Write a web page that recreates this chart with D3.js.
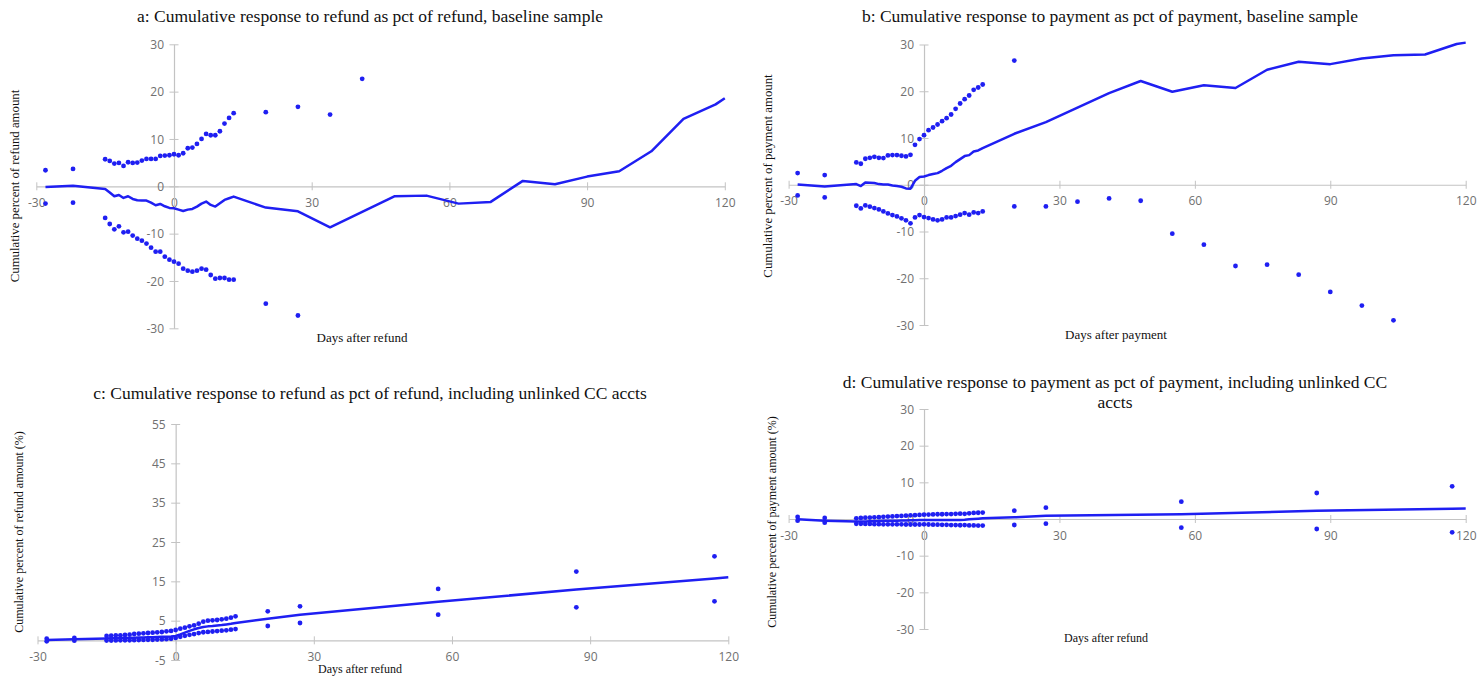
<!DOCTYPE html>
<html>
<head>
<meta charset="utf-8">
<script src="https://cdn.jsdelivr.net/npm/d3@7"></script>
<style>
  body { margin: 0; background: #fff; }
  .title  { font-family: "Liberation Serif", "DejaVu Serif", serif; fill: #111; }
  .axtitle { font-family: "Liberation Serif", "DejaVu Serif", serif; fill: #111; }
  .tick text { font-family: "Open Sans", "Liberation Sans", sans-serif; font-size: 12px; fill: #707070; }
</style>
</head>
<body>
<svg id="chart" width="1480" height="677"></svg>
<script>

// ---- data ----
var x_ticks = [-30, 0, 30, 60, 90, 120];
var y_ticks_30 = [-30, -20, -10, 0, 10, 20, 30];
var y_ticks_c = [-5, 5, 15, 25, 35, 45, 55];

// days for panels a and b
var days_ab = [-28,-22,-15,-14,-13,-12,-11,-10,-9,-8,-7,-6,-5,-4,-3,-2,-1,0,1,2,3,4,5,6,7,8,9,10,11,12,13,
               20,27,34,41,48,55,62,69,76,83,90,97,104,111,118,120];
// days for panels c and d
var days_cd = [-28,-22,-15,-14,-13,-12,-11,-10,-9,-8,-7,-6,-5,-4,-3,-2,-1,0,1,2,3,4,5,6,7,8,9,10,11,12,13,
               20,27,57,87,117,120];

var a_mid = [-0.14,0.14,-0.56,-1.3,-2.11,-1.83,-2.46,-2.11,-2.67,-2.95,-3.02,-3.02,-3.45,-4.01,-3.73,-4.22,-4.57,
             -4.64,-4.93,-5.21,-4.93,-4.78,-4.29,-3.66,-3.23,-3.94,-4.29,-3.59,-2.88,-2.53,-2.18,
             -4.5,-5.28,-8.66,-5.4,-2.11,-1.97,-3.66,-3.3,1.14,0.42,2.05,3.17,7.4,14.25,17.3,18.6];
var a_hi = [3.39,3.67,5.71,5.36,4.80,4.94,4.31,5.08,4.94,5.01,5.43,5.79,5.79,5.79,6.42,6.49,6.56,
            6.77,6.56,6.98,8.04,8.18,8.96,10.01,11.07,10.79,10.79,11.63,13.26,14.45,15.44,
            15.65,16.78,15.16,22.70,null,null,null,null,null,null,null,null,null,null,null,null];
var a_lo = [-3.66,-3.45,-6.69,-7.96,-9.08,-8.45,-9.72,-9.58,-10.42,-11.06,-11.48,-12.11,-12.96,-13.81,-13.81,-14.86,-15.50,
            -15.92,-16.34,-17.40,-17.82,-18.03,-17.82,-17.40,-17.61,-18.74,-19.51,-19.37,-19.37,-19.72,-19.72,
            -24.8,-27.3,null,null,null,null,null,null,null,null,null,null,null,null,null,null];

var b_mid = [0.07,-0.36,0.14,-0.28,0.50,0.43,0.36,0.14,0.07,0.07,-0.14,-0.28,-0.43,-0.78,-0.85,0.85,1.64,
             1.78,2.07,2.28,2.49,2.99,3.56,4.06,4.84,5.48,6.13,6.34,7.12,7.34,7.84,
             10.9,13.4,16.5,19.6,22.2,19.9,21.3,20.7,24.6,26.3,25.8,27.0,27.7,27.85,30.1,30.4];
var b_hi = [2.5,2.07,4.77,4.49,5.56,5.77,5.98,5.77,5.70,6.27,6.34,6.34,6.20,6.05,6.41,8.55,9.76,
            10.61,11.68,12.25,12.89,13.60,14.25,15.03,16.24,17.38,18.31,19.09,20.30,20.80,21.44,
            26.57,null,null,null,null,null,null,null,null,null,null,null,null,null,null,null];
var b_lo = [-2.28,-2.71,-4.49,-5.06,-4.42,-4.70,-4.99,-5.27,-5.70,-6.13,-6.48,-6.77,-7.19,-7.62,-8.26,-6.98,-6.48,
            -6.91,-7.12,-7.41,-7.62,-7.41,-6.98,-6.98,-6.70,-6.41,-6.05,-6.41,-5.91,-6.05,-5.70,
            -4.63,-4.63,-3.63,-2.92,-3.42,-10.47,-12.82,-17.38,-17.09,-19.23,-22.93,-25.85,-28.99,null,null,null];

var c_mid = [0.08,0.25,0.45,0.5,0.55,0.58,0.6,0.62,0.68,0.72,0.75,0.78,0.8,0.85,0.88,0.92,0.98,
             1.1,1.5,1.95,2.4,2.8,3.15,3.4,3.55,3.65,3.8,3.9,4.05,4.2,4.4,
             5.5,6.5,9.8,12.9,15.75,16.05];
var c_hi = [0.42,0.59,1.10,1.19,1.27,1.27,1.36,1.44,1.61,1.70,1.78,1.87,1.95,2.04,2.12,2.29,2.38,
            2.63,2.97,3.22,3.56,3.82,4.24,4.75,5.00,5.09,5.17,5.34,5.51,5.77,6.11,
            7.38,8.65,13.06,17.47,21.37,null];
var c_lo = [-0.25,-0.08,-0.05,-0.05,-0.02,0.0,0.0,0.02,0.05,0.08,0.1,0.12,0.15,0.2,0.22,0.3,0.4,
            0.6,0.9,1.15,1.4,1.6,1.85,2.05,2.15,2.25,2.35,2.45,2.55,2.7,2.85,
            3.65,4.41,6.53,8.40,9.92,null];

var d_mid = [-0.1,-0.45,-0.7,-0.7,-0.65,-0.6,-0.6,-0.55,-0.5,-0.5,-0.45,-0.45,-0.4,-0.4,-0.35,-0.35,-0.3,
             -0.3,-0.3,-0.3,-0.3,-0.3,-0.25,-0.25,-0.25,-0.25,-0.2,-0.1,0.0,0.1,0.18,
             0.45,0.91,1.27,2.27,2.82,2.85];
var d_hi = [0.55,0.27,0.18,0.28,0.35,0.4,0.45,0.5,0.6,0.65,0.7,0.8,0.85,0.9,1.0,1.05,1.1,
            1.18,1.2,1.25,1.3,1.3,1.35,1.35,1.4,1.45,1.4,1.55,1.65,1.7,1.75,
            2.27,3.09,4.73,7.09,8.91,null];
var d_lo = [-0.45,-1.0,-1.3,-1.3,-1.35,-1.35,-1.4,-1.4,-1.45,-1.45,-1.45,-1.45,-1.45,-1.5,-1.5,-1.5,-1.5,
            -1.45,-1.5,-1.55,-1.55,-1.6,-1.6,-1.65,-1.65,-1.7,-1.65,-1.75,-1.75,-1.8,-1.8,
            -1.64,-1.27,-2.36,-2.73,-3.64,null];

// ---- layout ----
var blue = "#1f1ff2";
var axis_grey = "#c3c3c3";

var panels = [
    { left: 36.3, right: 724.8, top: 44.3, bottom: 328.3, yExt: [-30, 30], yTicks: y_ticks_30,
      title: ["a: Cumulative response to refund as pct of refund, baseline sample"], titleX: 370, titleY: 22, titleSize: 17.5,
      ytitle: "Cumulative percent of refund amount", ytX: 19, ytY: 186, ytSize: 12.8,
      xtitle: "Days after refund", xtX: 362, xtY: 342, xtSize: 13,
      days: days_ab, mid: a_mid, hi: a_hi, lo: a_lo },
    { left: 788.6, right: 1465.7, top: 44.5, bottom: 325, yExt: [-30, 30], yTicks: y_ticks_30,
      title: ["b: Cumulative response to payment as pct of payment, baseline sample"], titleX: 1110, titleY: 22, titleSize: 17.5,
      ytitle: "Cumulative percent of payment amount", ytX: 772, ytY: 176, ytSize: 12.8,
      xtitle: "Days after payment", xtX: 1116, xtY: 339, xtSize: 13,
      days: days_ab, mid: b_mid, hi: b_hi, lo: b_lo },
    { left: 37.5, right: 728.3, top: 424, bottom: 660, yExt: [-5, 55], yTicks: y_ticks_c,
      title: ["c: Cumulative response to refund as pct of refund, including unlinked CC accts"], titleX: 370, titleY: 399, titleSize: 17.5,
      ytitle: "Cumulative percent of refund amount (%)", ytX: 23, ytY: 532, ytSize: 12,
      xtitle: "Days after refund", xtX: 360, xtY: 673, xtSize: 12,
      days: days_cd, mid: c_mid, hi: c_hi, lo: c_lo },
    { left: 788.6, right: 1465.7, top: 409, bottom: 629, yExt: [-30, 30], yTicks: y_ticks_30,
      title: ["d: Cumulative response to payment as pct of payment, including unlinked CC", "accts"], titleX: 1115, titleY: 388, titleSize: 17.5,
      ytitle: "Cumulative percent of payment amount (%)", ytX: 776, ytY: 522, ytSize: 12,
      xtitle: "Days after refund", xtX: 1106, xtY: 642, xtSize: 12,
      days: days_cd, mid: d_mid, hi: d_hi, lo: d_lo }
];

var svg = d3.select("#chart");

function add_scales( g, p ){
    var xs = d3.scaleLinear().domain([-30, 120]).range([p.left, p.right]);
    var ys = d3.scaleLinear().domain(p.yExt).range([p.bottom, p.top]);

    var xa = g.append("g")
        .attr("transform", "translate(0," + ys(0) + ")")
        .call(d3.axisBottom(xs).tickValues(x_ticks).tickSize(0).tickSizeOuter(0).tickFormat(function(d){ return String(d); }));
    xa.select(".domain").attr("stroke", axis_grey).attr("stroke-width", 1.2);
    xa.selectAll(".tick line").attr("y1", -4).attr("y2", 4).attr("stroke", axis_grey);
    xa.selectAll(".tick text").attr("y", 12).attr("dy", "0.71em");

    var ya = g.append("g")
        .attr("transform", "translate(" + xs(0) + ",0)")
        .call(d3.axisLeft(ys).tickValues(p.yTicks).tickSize(0).tickSizeOuter(0).tickFormat(function(d){ return String(d); }));
    ya.select(".domain").attr("stroke", axis_grey).attr("stroke-width", 1.2);
    ya.selectAll(".tick line").attr("x1", -4.5).attr("x2", 4.5).attr("stroke", axis_grey);
    ya.selectAll(".tick text").attr("x", -10).attr("dy", "0.34em");

    return { x: xs, y: ys };
}

function add_linechart( g, sc, days, vals ){
    var data = days.map(function(d, i){ return [d, vals[i]]; });
    g.append("path")
        .datum(data)
        .attr("fill", "none")
        .attr("stroke", blue)
        .attr("stroke-width", 2.5)
        .attr("stroke-linejoin", "round")
        .attr("d", d3.line()
            .defined(function(d){ return d[1] != null; })
            .x(function(d){ return sc.x(d[0]); })
            .y(function(d){ return sc.y(d[1]); }));
}

function add_dots( g, sc, days, vals ){
    var data = days.map(function(d, i){ return [d, vals[i]]; })
                   .filter(function(d){ return d[1] != null; });
    g.selectAll(null)
        .data(data)
        .enter().append("circle")
        .attr("cx", function(d){ return sc.x(d[0]); })
        .attr("cy", function(d){ return sc.y(d[1]); })
        .attr("r", 2.4)
        .attr("fill", blue);
}

function add_titles( g, p ){
    var t = g.append("text").attr("class", "title")
        .attr("text-anchor", "middle")
        .attr("font-size", p.titleSize + "px");
    p.title.forEach(function(line, i){
        t.append("tspan").attr("x", p.titleX).attr("y", p.titleY + i * 20).text(line);
    });

    g.append("text").attr("class", "axtitle")
        .attr("text-anchor", "middle")
        .attr("font-size", p.ytSize + "px")
        .attr("transform", "translate(" + p.ytX + "," + p.ytY + ") rotate(-90)")
        .text(p.ytitle);

    g.append("text").attr("class", "axtitle")
        .attr("text-anchor", "middle")
        .attr("font-size", p.xtSize + "px")
        .attr("x", p.xtX).attr("y", p.xtY)
        .text(p.xtitle);
}

panels.forEach(function(p){
    var g = svg.append("g");
    var sc = add_scales(g, p);
    add_titles(g, p);
    add_linechart(g, sc, p.days, p.mid);
    add_dots(g, sc, p.days, p.hi);
    add_dots(g, sc, p.days, p.lo);
});

</script>
</body>
</html>
